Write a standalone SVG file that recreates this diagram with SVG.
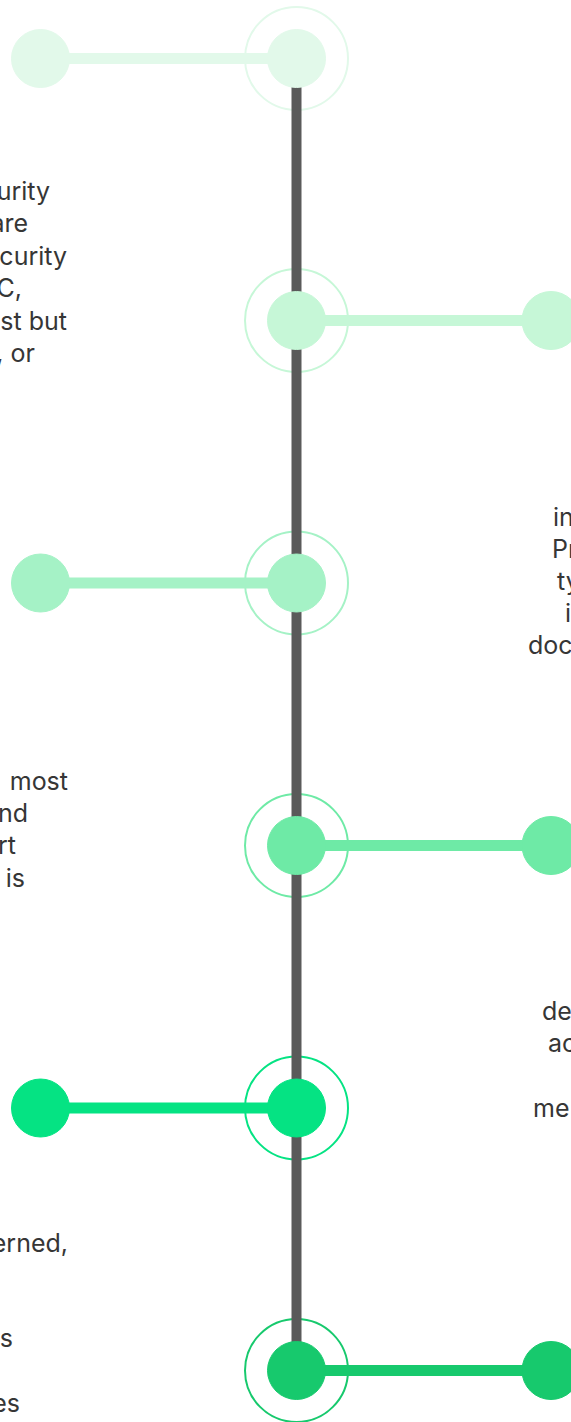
<svg xmlns="http://www.w3.org/2000/svg" width="571" height="1422" viewBox="0 0 571 1422">
  <style>
    .halo { fill: none; stroke-width: 2; }
    .spine { stroke: #5a5a5a; stroke-width: 10; }
    .link { stroke-width: 11; }
    .label { font-family: Inter, "Liberation Sans", sans-serif; font-size: 25px; fill: #363636; }
    .l { text-anchor: end; }
    .r { text-anchor: start; }
    .c1 { fill: #e2f9ea; stroke: #e2f9ea; }
    .c2 { fill: #c6f7d7; stroke: #c6f7d7; }
    .c3 { fill: #a5f2c6; stroke: #a5f2c6; }
    .c4 { fill: #6eeaa6; stroke: #6eeaa6; }
    .c5 { fill: #05e383; stroke: #05e383; }
    .c6 { fill: #17c96d; stroke: #17c96d; }
  </style>
  <rect width="571" height="1422" fill="#ffffff"/>

  <!-- outer rings around each timeline stop (drawn beneath the spine) -->
  <g id="halos">
    <circle class="halo c1" style="fill:none" cx="296.5" cy="58.5" r="51.5"/>
    <circle class="halo c2" style="fill:none" cx="296.5" cy="320.5" r="51.5"/>
    <circle class="halo c3" style="fill:none" cx="296.5" cy="583" r="51.5"/>
    <circle class="halo c4" style="fill:none" cx="296.5" cy="845.5" r="51.5"/>
    <circle class="halo c5" style="fill:none" cx="296.5" cy="1108" r="51.5"/>
    <circle class="halo c6" style="fill:none" cx="296.5" cy="1370.5" r="51.5"/>
  </g>

  <!-- spine and branch links -->
  <g id="connectors">
    <line class="spine" x1="296.5" y1="58.5" x2="296.5" y2="1370.5"/>
    <line class="link c1" x1="40.5" y1="58.5" x2="296.5" y2="58.5"/>
    <line class="link c2" x1="296.5" y1="320.5" x2="551" y2="320.5"/>
    <line class="link c3" x1="40.5" y1="583" x2="296.5" y2="583"/>
    <line class="link c4" x1="296.5" y1="845.5" x2="551" y2="845.5"/>
    <line class="link c5" x1="40.5" y1="1108" x2="296.5" y2="1108"/>
    <line class="link c6" x1="296.5" y1="1370.5" x2="551" y2="1370.5"/>
  </g>

  <g id="stop-1">
    <circle class="c1" cx="296.5" cy="58.5" r="29"/>
    <circle class="c1" cx="40.5" cy="58.5" r="29"/>
  </g>
  <g id="stop-2">
    <circle class="c2" cx="296.5" cy="320.5" r="29"/>
    <circle class="c2" cx="551" cy="320.5" r="29"/>
  </g>
  <g id="stop-3">
    <circle class="c3" cx="296.5" cy="583" r="29"/>
    <circle class="c3" cx="40.5" cy="583" r="29"/>
  </g>
  <g id="stop-4">
    <circle class="c4" cx="296.5" cy="845.5" r="29"/>
    <circle class="c4" cx="551" cy="845.5" r="29"/>
  </g>
  <g id="stop-5">
    <circle class="c5" cx="296.5" cy="1108" r="29"/>
    <circle class="c5" cx="40.5" cy="1108" r="29"/>
  </g>
  <g id="stop-6">
    <circle class="c6" cx="296.5" cy="1370.5" r="29"/>
    <circle class="c6" cx="551" cy="1370.5" r="29"/>
  </g>

  <!-- descriptive text blocks -->
  <g id="text-2" class="label l">
    <text x="50" y="200">urity</text>
    <text x="28" y="232.4">are</text>
    <text x="67" y="264.8">curity</text>
    <text x="22" y="297.2">C,</text>
    <text x="67" y="329.6">st but</text>
    <text x="35" y="362">, or</text>
  </g>
  <g id="text-3" class="label r">
    <text x="553" y="526">in</text>
    <text x="552" y="558">Pr</text>
    <text x="557" y="590">ty</text>
    <text x="565" y="622">i</text>
    <text x="528" y="654">doc</text>
  </g>
  <g id="text-4" class="label l">
    <text x="68" y="790">most</text>
    <text x="28" y="822">nd</text>
    <text x="16" y="854">rt</text>
    <text x="25" y="886.5">is</text>
  </g>
  <g id="text-5" class="label r">
    <text x="542" y="1020">de</text>
    <text x="548" y="1052">ac</text>
    <text x="533" y="1116.5">me</text>
  </g>
  <g id="text-6" class="label l">
    <text x="68" y="1252">erned,</text>
    <text x="13" y="1347">s</text>
    <text x="20" y="1412">es</text>
  </g>
</svg>
